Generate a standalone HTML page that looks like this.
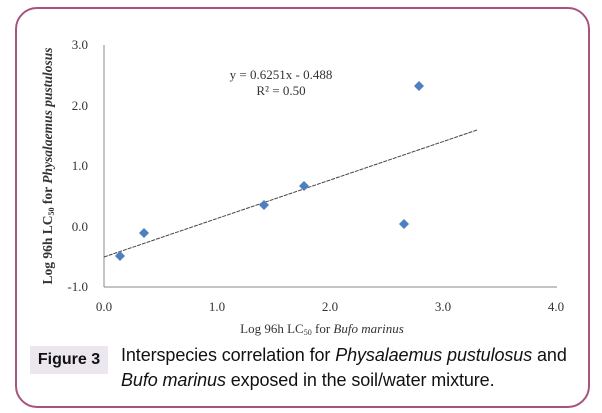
<!DOCTYPE html>
<html><head><style>
body{margin:0;width:602px;height:413px;background:#fff;position:relative;overflow:hidden;font-family:"Liberation Serif",serif}
.frame{position:absolute;left:15px;top:7px;width:571px;height:397px;border:2px solid #a8537f;border-radius:22px}
.fig{position:absolute;left:30px;top:346px;width:78px;height:28px;background:#ece7ee;font:bold 16px "Liberation Sans",sans-serif;line-height:28px;text-align:center;color:#111}
.cap{position:absolute;left:121px;top:343px;font:18px "Liberation Sans",sans-serif;line-height:25px;color:#111;letter-spacing:-0.1px}
</style></head><body>
<div class="frame"></div>
<svg width="602" height="413" style="position:absolute;left:0;top:0">
<g font-family="Liberation Serif" font-size="13" fill="#333">
<line x1="104" y1="45" x2="104" y2="287" stroke="#888" stroke-width="1"/>
<line x1="104" y1="287" x2="557" y2="287" stroke="#888" stroke-width="1"/>
<text x="88" y="49" text-anchor="end">3.0</text>
<text x="88" y="110" text-anchor="end">2.0</text>
<text x="88" y="170" text-anchor="end">1.0</text>
<text x="88" y="231" text-anchor="end">0.0</text>
<text x="88" y="291" text-anchor="end">-1.0</text>
<text x="104" y="311" text-anchor="middle">0.0</text>
<text x="217" y="311" text-anchor="middle">1.0</text>
<text x="330" y="311" text-anchor="middle">2.0</text>
<text x="443" y="311" text-anchor="middle">3.0</text>
<text x="556" y="311" text-anchor="middle">4.0</text>
<text x="322" y="333" text-anchor="middle" font-size="13">Log 96h LC<tspan font-size="8" dy="2">50</tspan><tspan dy="-2"> for </tspan><tspan font-style="italic">Bufo marinus</tspan></text>
<text transform="translate(52,166) rotate(-90)" text-anchor="middle" font-size="13.5" font-weight="bold">Log 96h LC<tspan font-size="8" dy="2">50</tspan><tspan dy="-2"> for </tspan><tspan font-style="italic">Physalaemus pustulosus</tspan></text>
<text x="281" y="79" text-anchor="middle">y = 0.6251x - 0.488</text>
<text x="281" y="95" text-anchor="middle">R² = 0.50</text>
<line x1="104" y1="257" x2="477" y2="130" stroke="#444" stroke-width="1" stroke-dasharray="4,1"/>
<g fill="#4f7fbf">
<path d="M120 251l5 5-5 5-5-5z"/>
<path d="M144 228l5 5-5 5-5-5z"/>
<path d="M264 200l5 5-5 5-5-5z"/>
<path d="M304 181l5 5-5 5-5-5z"/>
<path d="M404 219l5 5-5 5-5-5z"/>
<path d="M419 81l5 5-5 5-5-5z"/>
</g></g></svg>
<div class="fig">Figure 3</div>
<div class="cap">Interspecies correlation for <i>Physalaemus pustulosus</i> and<br><i>Bufo marinus</i> exposed in the soil/water mixture.</div>
</body></html>
